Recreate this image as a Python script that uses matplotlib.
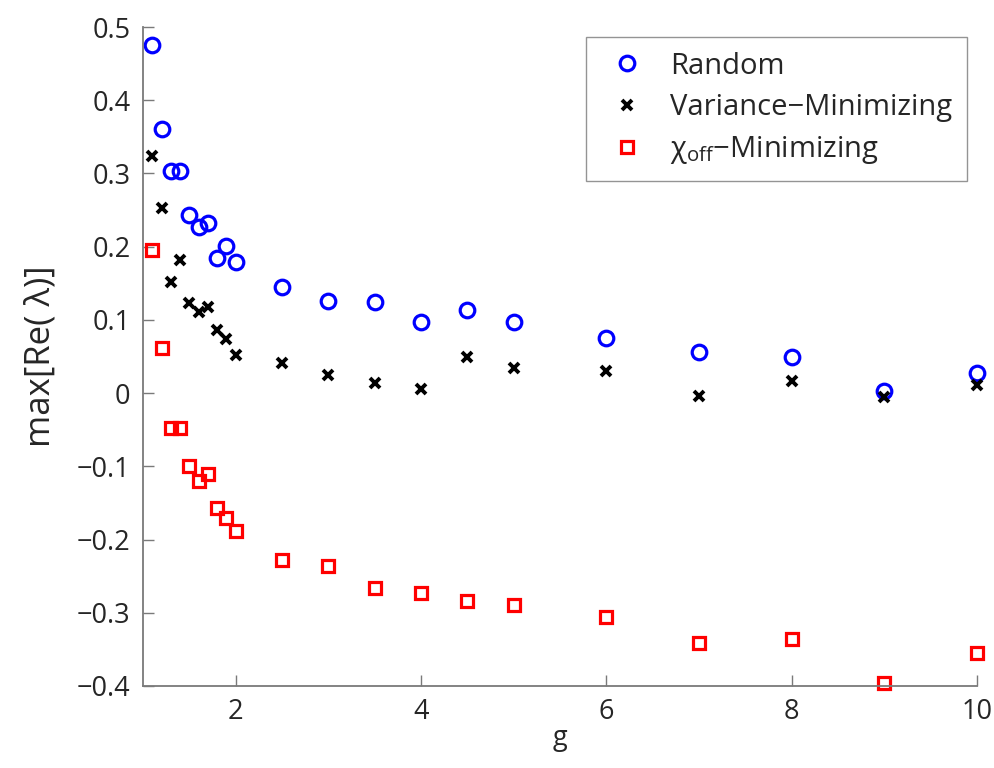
import matplotlib
matplotlib.use("Agg")
import matplotlib.pyplot as plt

plt.rcParams['font.family'] = ['Open Sans', 'DejaVu Sans']
plt.rcParams['mathtext.fontset'] = 'custom'
plt.rcParams['mathtext.rm'] = 'Open Sans'
plt.rcParams['mathtext.it'] = 'Open Sans'

g = [1.1, 1.2, 1.3, 1.4, 1.5, 1.6, 1.7, 1.8, 1.9, 2.0, 2.5, 3, 3.5, 4, 4.5, 5, 6, 7, 8, 9, 10]
random_vals = [0.475, 0.361, 0.303, 0.303, 0.243, 0.227, 0.232, 0.184, 0.201, 0.179,
               0.145, 0.126, 0.124, 0.097, 0.113, 0.097, 0.075, 0.056, 0.049, 0.003, 0.027]
variance_vals = [0.324, 0.253, 0.152, 0.182, 0.123, 0.111, 0.118, 0.086, 0.074, 0.052,
                 0.041, 0.025, 0.014, 0.006, 0.049, 0.034, 0.030, -0.004, 0.017, -0.005, 0.011]
chi_vals = [0.195, 0.061, -0.048, -0.048, -0.100, -0.120, -0.111, -0.157, -0.171, -0.188,
            -0.228, -0.236, -0.266, -0.273, -0.284, -0.290, -0.306, -0.341, -0.336, -0.396, -0.355]

labels = ['Random', 'Variance\u2212Minimizing', r'$\chi_{\mathrm{off}}$' + '\u2212Minimizing']
xticks = [2, 4, 6, 8, 10]
yticks = [-0.4, -0.3, -0.2, -0.1, 0, 0.1, 0.2, 0.3, 0.4, 0.5]
ytick_labels = ['\u22120.4', '\u22120.3', '\u22120.2', '\u22120.1', '0', '0.1', '0.2', '0.3', '0.4', '0.5']

fig = plt.figure(figsize=(9.94, 7.68), dpi=100)
ax = fig.add_axes([0.1439, 0.1068, 0.839, 0.858])

ax.plot(g, random_vals, linestyle='none', marker='o', markersize=10.5, markerfacecolor='none',
        markeredgecolor='#0000ff', markeredgewidth=2.3, label=labels[0], clip_on=False)
ax.plot(g, variance_vals, linestyle='none', marker='x', markersize=7,
        markeredgecolor='black', markeredgewidth=2.8, label=labels[1], clip_on=False)
ax.plot(g, chi_vals, linestyle='none', marker='s', markersize=9, markerfacecolor='none',
        markeredgecolor='#ff0000', markeredgewidth=2.3, label=labels[2], clip_on=False)

ax.set_xlim(1, 10)
ax.set_ylim(-0.4, 0.5)
ax.set_xticks(xticks)
ax.set_yticks(yticks)
ax.set_xticklabels([str(t) for t in xticks])
ax.set_yticklabels(ytick_labels)

for s in ['top', 'right']:
    ax.spines[s].set_visible(False)
for s in ['left', 'bottom']:
    ax.spines[s].set_color('#7a7a7a')
    ax.spines[s].set_linewidth(1.3)

ax.tick_params(direction='in', length=8, width=1.0, color='#7a7a7a', labelsize=19.5,
               labelcolor='#262626', pad=9)

ax.set_xlabel('g', fontsize=19.5, color='#262626', labelpad=-2)
ax.set_ylabel('max[Re( \u03bb)]', fontsize=25, color='#262626', labelpad=14)

leg = ax.legend(loc='upper right', bbox_to_anchor=(0.988, 0.985), fontsize=21, frameon=True,
                fancybox=False, edgecolor='#7a7a7a', borderpad=0.5, handletextpad=0.6,
                handlelength=1.8, labelspacing=0.42, borderaxespad=0.0)
leg.get_frame().set_linewidth(1.0)
for t in leg.get_texts():
    t.set_color('#262626')

fig.savefig('out.png', dpi=100)
